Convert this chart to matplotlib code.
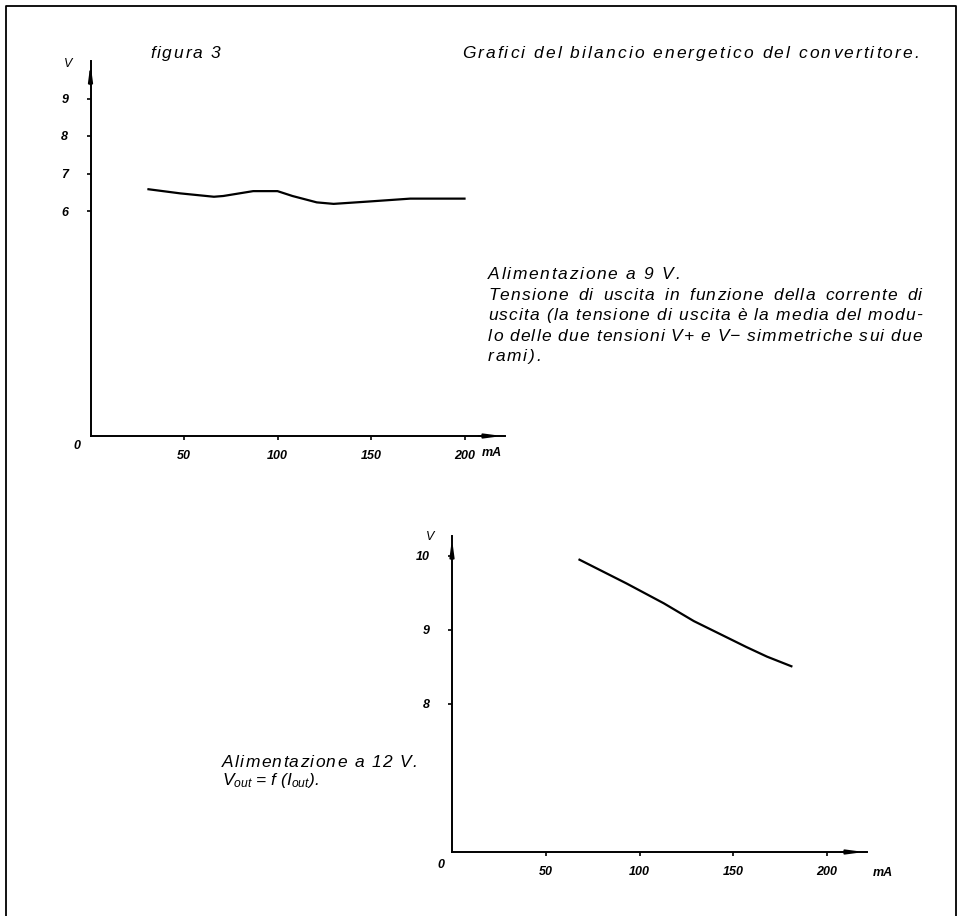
import matplotlib
matplotlib.use("Agg")
import matplotlib.pyplot as plt
from matplotlib.lines import Line2D
from matplotlib import font_manager
from matplotlib.ft2font import FT2Font


# ============================================================
# DATA
# ============================================================

# 9 V supply: output voltage vs output current
top_current = [31, 48, 66, 71, 87, 100, 108, 121, 130, 148, 171, 200]
top_voltage = [6.58, 6.47, 6.38, 6.40, 6.53, 6.53, 6.40, 6.23, 6.19, 6.25, 6.33, 6.33]
top_xticks = [50, 100, 150, 200]
top_yticks = [6, 7, 8, 9]

# 12 V supply: Vout = f(Iout)
bottom_current = [68, 93, 113, 129, 145, 157, 168, 181]
bottom_voltage = [9.95, 9.63, 9.36, 9.12, 8.92, 8.77, 8.64, 8.51]
bottom_xticks = [50, 100, 150, 200]
bottom_yticks = [8, 9, 10]

title_left = "figura 3"
title_right = "Grafici del bilancio energetico del convertitore."

top_caption = [
    "Alimentazione a 9 V.",
    "Tensione di uscita in funzione della corrente di",
    "uscita (la tensione di uscita è la media del modu-",
    "lo delle due tensioni V+ e V− simmetriche sui due",
    "rami).",
]
# which caption lines are justified to the right margin
top_justified = [False, True, True, True, False]

bottom_caption_1 = "Alimentazione a 12 V."
bottom_caption_2 = r"$V_{out}$ = f ($I_{out}$)."


# ============================================================
# SETTINGS
# ============================================================

W, H = 961, 916
TEXT_SIZE = 12.5

plt.rcParams["font.family"] = ["Liberation Sans", "DejaVu Sans"]
plt.rcParams["mathtext.fontset"] = "custom"
plt.rcParams["mathtext.it"] = "Liberation Sans:italic"
plt.rcParams["mathtext.rm"] = "Liberation Sans"

fig = plt.figure(figsize=(W / 100, H / 100), dpi=100)

italic_path = font_manager.findfont(
    font_manager.FontProperties(family="Liberation Sans", style="italic"))
ft = FT2Font(italic_path)
ft.set_size(TEXT_SIZE, 100)


def rect(left, right, top, bottom):
    return [left / W, 1 - bottom / H, (right - left) / W, (bottom - top) / H]


def put(x, y, s, **kw):
    fig.text(x / W, 1 - y / H, s, **kw)


def tracked(x, y, s, track, width=None):
    # the scan uses loose letter spacing, so place letters one by one;
    # with a width the spaces are stretched to justify the line
    adv = [ft.load_char(ord(ch)).linearHoriAdvance / 65536 for ch in s]
    extra = 0
    if width:
        natural = sum(adv) + track * (len(s) - 1)
        extra = (width - natural) / s.count(" ")
    for ch, a in zip(s, adv):
        if ch != " ":
            put(x, y, ch, fontsize=TEXT_SIZE, fontstyle="italic",
                ha="left", va="baseline")
        x += a + track + (extra if ch == " " else 0)


def style_axis(ax, xticks, yticks):
    for side in ["top", "right"]:
        ax.spines[side].set_visible(False)
    for side in ["left", "bottom"]:
        ax.spines[side].set_linewidth(1.4)

    ax.set_xticks(xticks)
    ax.set_yticks(yticks)
    ax.set_xticklabels([str(t) for t in xticks], fontstyle="italic",
                       fontweight="bold", fontsize=9)
    ax.set_yticklabels([str(t) for t in yticks], fontstyle="italic",
                       fontweight="bold", fontsize=9)
    ax.tick_params(axis="x", direction="out", length=3, width=1.2, pad=7)
    ax.tick_params(axis="y", direction="out", length=3, width=1.2, pad=13)

    # thin arrow heads on the axis ends
    head = "-|>,head_length=0.9,head_width=0.12"
    ax.annotate("", xy=(1, 0), xytext=(0.93, 0), xycoords="axes fraction",
                arrowprops=dict(arrowstyle=head, color="black", lw=1.4))
    ax.annotate("", xy=(0, 1), xytext=(0, 0.93), xycoords="axes fraction",
                arrowprops=dict(arrowstyle=head, color="black", lw=1.4))


# ============================================================
# TOP CHART (9 V)
# ============================================================

ax1 = fig.add_axes(rect(90.5, 505, 61, 436))
ax1.set_xlim(0, (505 - 90.5) / 1.87)
ax1.set_ylim(0, (436 - 61) / 37.5)
ax1.plot(top_current, top_voltage, color="black", lw=1.6)
style_axis(ax1, top_xticks, top_yticks)


# ============================================================
# BOTTOM CHART (12 V)
# ============================================================

ax2 = fig.add_axes(rect(452, 867, 536, 852))
ax2.set_xlim(0, (867 - 452) / 1.875)
ax2.set_ylim(6, 6 + (852 - 536) / 74)
ax2.plot(bottom_current, bottom_voltage, color="black", lw=1.6)
style_axis(ax2, bottom_xticks, bottom_yticks)


# ============================================================
# TEXTS
# ============================================================

axis_font = dict(fontstyle="italic", fontsize=9, ha="center", va="center")

put(68, 64, "V", **axis_font)
put(77, 446, "0", fontweight="bold", **axis_font)
put(492, 453, "mA", fontweight="bold", **axis_font)

put(430, 537, "V", **axis_font)
put(441, 865, "0", fontweight="bold", **axis_font)
put(883, 873, "mA", fontweight="bold", **axis_font)

tracked(150, 58, title_left, 1.8)
tracked(462, 58, title_right, 2.1)

for i, line in enumerate(top_caption):
    if top_justified[i]:
        tracked(488, 279 + i * 20.5, line, 1.2, width=434)
    else:
        tracked(488, 279 + i * 20.5, line, 1.7)

tracked(222, 767, bottom_caption_1, 1.3)
put(222, 785, bottom_caption_2, fontsize=TEXT_SIZE, fontstyle="italic",
    ha="left", va="baseline")

# page frame
fig.add_artist(Line2D([6 / W, 6 / W, 956 / W, 956 / W],
                      [0, 1 - 6 / H, 1 - 6 / H, 0],
                      transform=fig.transFigure, color="black", lw=1.3))

fig.savefig("out.png", dpi=100)
